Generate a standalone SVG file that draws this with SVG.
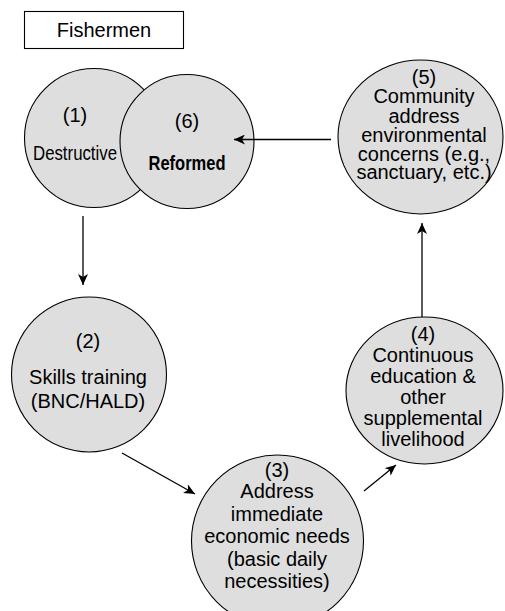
<svg xmlns="http://www.w3.org/2000/svg" width="505" height="611" viewBox="0 0 505 611">
<style>
.node{fill:#dedede;stroke:#000;stroke-width:1.1}
.t{font-family:"Liberation Sans",Arial,Helvetica,sans-serif;font-size:20px;fill:#000;text-anchor:middle}
.c{stroke:#000;stroke-width:1.3;fill:none}
</style>
<defs>
<marker id="ah" markerUnits="userSpaceOnUse" markerWidth="12" markerHeight="10" refX="11" refY="5" orient="auto">
<path d="M0,0 L11,5 L0,10 L3,5 Z" fill="#000"/>
</marker>
</defs>
<rect width="505" height="611" fill="#fff"/>
<g id="fishermen">
<rect x="24.5" y="11.5" width="159" height="37" fill="#fff" stroke="#000" stroke-width="1.1"/>
<text class="t" x="104" y="37">Fishermen</text>
</g>
<g id="node1">
<circle class="node" cx="94" cy="138" r="69.5"/>
<text class="t" x="75" y="122">(1)</text>
<text class="t" x="75" y="160" font-size="18" textLength="84" lengthAdjust="spacingAndGlyphs">Destructive</text>
</g>
<g id="node6">
<circle class="node" cx="187" cy="141.5" r="67"/>
<text class="t" x="187" y="128">(6)</text>
<text class="t" x="187" y="170" font-size="19" font-weight="bold" textLength="77" lengthAdjust="spacingAndGlyphs">Reformed</text>
</g>
<g id="node5">
<ellipse class="node" cx="420.5" cy="137" rx="82.5" ry="77"/>
<text class="t" x="424" y="84">(5)</text>
<text class="t" x="424" y="103">Community</text>
<text class="t" x="424" y="123">address</text>
<text class="t" x="424" y="142">environmental</text>
<text class="t" x="424" y="161">concerns (e.g.,</text>
<text class="t" x="424" y="179">sanctuary, etc.)</text>
</g>
<g id="node2">
<circle class="node" cx="89" cy="374.5" r="77.5"/>
<text class="t" x="88" y="348">(2)</text>
<text class="t" x="88" y="384">Skills training</text>
<text class="t" x="88" y="408">(BNC/HALD)</text>
</g>
<g id="node4">
<ellipse class="node" cx="424.5" cy="390.5" rx="78.5" ry="73.5"/>
<text class="t" x="423" y="341">(4)</text>
<text class="t" x="423" y="362">Continuous</text>
<text class="t" x="423" y="383">education &amp;</text>
<text class="t" x="423" y="404">other</text>
<text class="t" x="423" y="425">supplemental</text>
<text class="t" x="423" y="446">livelihood</text>
</g>
<g id="node3">
<circle class="node" cx="277.5" cy="541" r="86"/>
<text class="t" x="277" y="477">(3)</text>
<text class="t" x="277" y="498">Address</text>
<text class="t" x="277" y="521">immediate</text>
<text class="t" x="277" y="543">economic needs</text>
<text class="t" x="277" y="566">(basic daily</text>
<text class="t" x="277" y="588">necessities)</text>
</g>
<g id="connectors">
<line class="c" x1="331" y1="139.5" x2="234" y2="139.5" marker-end="url(#ah)"/>
<line class="c" x1="83" y1="216" x2="83" y2="285" marker-end="url(#ah)"/>
<line class="c" x1="122" y1="453" x2="195" y2="494" marker-end="url(#ah)"/>
<line class="c" x1="364" y1="491" x2="396" y2="465" marker-end="url(#ah)"/>
<line class="c" x1="422" y1="317" x2="422" y2="223" marker-end="url(#ah)"/>
</g>
</svg>
